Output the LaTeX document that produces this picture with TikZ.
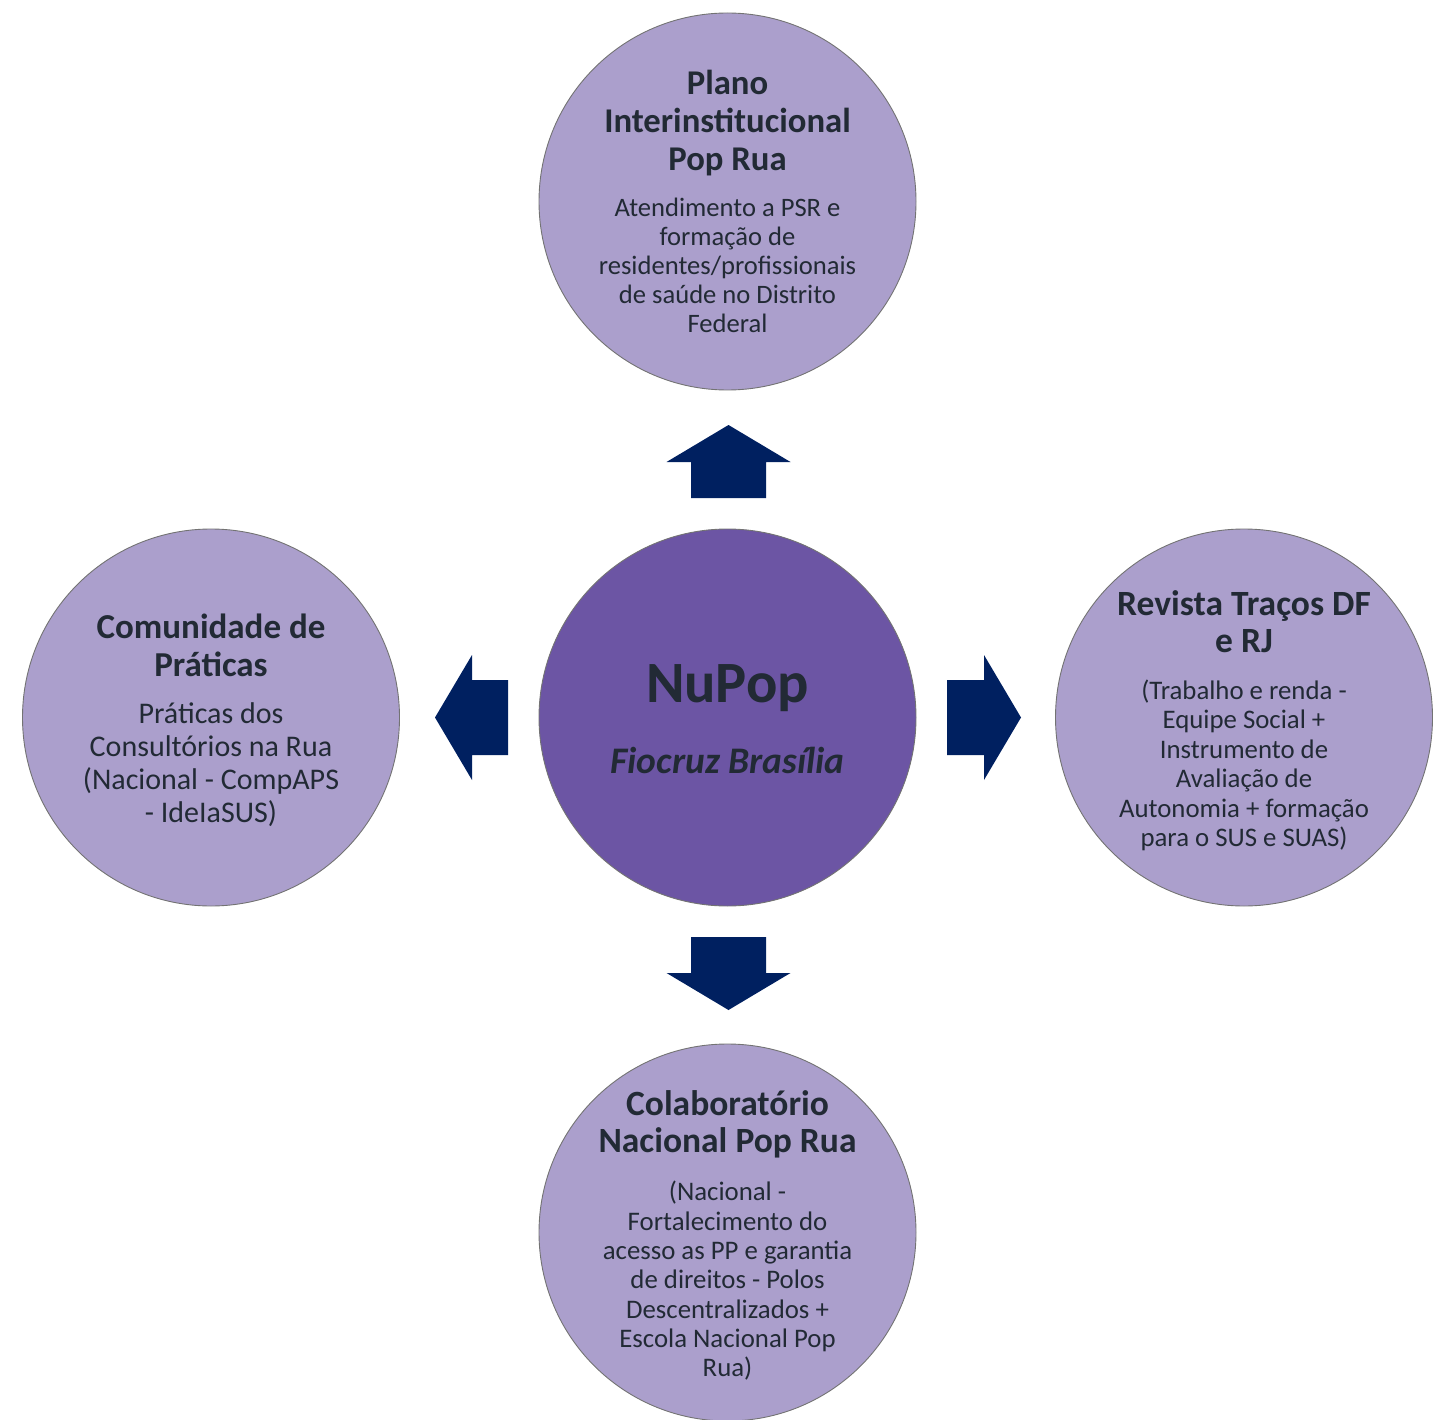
\documentclass[tikz,border=0pt]{standalone}
\usepackage{fontspec}
\setmainfont{Carlito}
\newcommand\setsz[2]{\fontsize{#1}{#2}\selectfont\spaceskip=0.226em\relax}
\definecolor{lav}{HTML}{AB9FCC}
\definecolor{core}{HTML}{6C55A4}
\definecolor{navy}{HTML}{002060}
\definecolor{ink}{HTML}{222A35}
\begin{document}
\begin{tikzpicture}[x=1pt,y=-1pt,
  bubble/.style={circle, minimum size=377pt, inner sep=0pt, fill=lav, draw=black!55, line width=0.9pt},
  hub/.style={bubble, fill=core},
  txt/.style={text=ink, align=center, text width=360pt, inner sep=0pt},
  blockarrow/.style={fill=navy}]
\useasboundingbox (0,0) rectangle (1443,1420);

\node[bubble] (top) at (727.5,201.5) {};
\node[hub] (hub) at (727.5,717.5) {};
\node[bubble] (left) at (211,717.5) {};
\node[bubble] (right) at (1244,717.5) {};
\node[bubble] (bottom) at (727.5,1232.5) {};

% block arrows
\fill[blockarrow] (691,498) -- (691,462) -- (666.5,462) -- (728.5,425) -- (790.5,462) -- (766,462) -- (766,498) -- cycle;
\fill[blockarrow] (691,937) -- (766,937) -- (766,973) -- (790.5,973) -- (728.5,1010) -- (666.5,973) -- (691,973) -- cycle;
\fill[blockarrow] (508,680) -- (472,680) -- (472,655) -- (435,717.5) -- (472,780) -- (472,755) -- (508,755) -- cycle;
\fill[blockarrow] (947,680) -- (984,680) -- (984,655) -- (1021,717.5) -- (984,780) -- (984,755) -- (947,755) -- cycle;

\node[txt] (toptxt) at (top.center) {{\bfseries\setsz{34.7}{38}Plano\\Interinstitucional\\Pop Rua\par}\vspace{17pt}{\setsz{26.6}{29}Atendimento a PSR e\\formação de\\residentes/profissionais\\de saúde no Distrito\\Federal\par}};

\node[txt] (hubtxt) at ([yshift=-2pt]hub.center) {{\bfseries\setsz{58.5}{71}NuPop\\\itshape\setsz{37.5}{71}Fiocruz Brasília\par}};

\node[txt] (lefttxt) at ([yshift=-3pt]left.center) {{\bfseries\setsz{35}{38}Comunidade de\\Práticas\par}\vspace{14pt}{\setsz{30}{33}Práticas dos\\Consultórios na Rua\\(Nacional - CompAPS\\- IdeIaSUS)\par}};

\node[txt] (righttxt) at ([yshift=-3pt]right.center) {{\bfseries\setsz{35.5}{37}Revista Traços DF\\e RJ\par}\vspace{18pt}{\setsz{26.8}{29.4}(Trabalho e renda -\\Equipe Social +\\Instrumento de\\Avaliação de\\Autonomia + formação\\para o SUS e SUAS)\par}};

\node[txt] (bottomtxt) at ([yshift=-3pt]bottom.center) {{\bfseries\setsz{35.5}{37}Colaboratório\\Nacional Pop Rua\par}\vspace{19pt}{\setsz{26.8}{29.3}(Nacional -\\Fortalecimento do\\acesso as PP e garantia\\de direitos - Polos\\Descentralizados +\\Escola Nacional Pop\\Rua)\par}};
\end{tikzpicture}
\end{document}
